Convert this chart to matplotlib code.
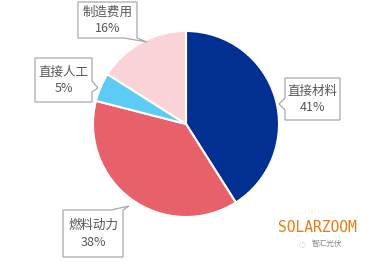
import matplotlib
matplotlib.use("Agg")
import matplotlib.pyplot as plt
from matplotlib.patches import Polygon

plt.rcParams['font.family'] = ['Noto Sans CJK SC', 'DejaVu Sans']

categories = ['直接材料', '燃料动力', '直接人工', '制造费用']
values = [41, 38, 5, 16]
colors = ['#023092', '#E8606A', '#5CCBF6', '#F9D3D6']

W, H = 377, 262
fig = plt.figure(figsize=(W / 100, H / 100), dpi=100)
cx, cy, r = 186, 124, 93
ax = fig.add_axes([(cx - r) / W, 1 - (cy + r) / H, 2 * r / W, 2 * r / H])
ax.pie(values, colors=colors, startangle=90, counterclock=False,
       wedgeprops=dict(edgecolor='white', linewidth=1.5))
ax.set_xlim(-1, 1)
ax.set_ylim(-1, 1)
ax.set_aspect('auto')
ax.axis('off')


def d(px, py):
    return ((px - cx) / r, (cy - py) / r)


# callout boxes in pixel layout: (x0, y0, x1, y1), pointer side, base span, tip
callouts = {
    '直接材料': ((285, 78, 340, 120), 'left', (98, 110), (279, 104)),
    '燃料动力': ((63, 210, 123, 257), 'top', (111, 123), (129, 206)),
    '直接人工': ((35, 58, 92, 102), 'right', (81, 92), (98, 88)),
    '制造费用': ((78, 2, 137, 38), 'bottom', (124, 137), (147, 42)),
}

for cat, v in zip(categories, values):
    (x0, y0, x1, y1), side, (a, b), tip = callouts[cat]
    if side == 'left':
        pts = [(x0, y0), (x1, y0), (x1, y1), (x0, y1), (x0, b), tip, (x0, a)]
    elif side == 'right':
        pts = [(x0, y0), (x1, y0), (x1, a), tip, (x1, b), (x1, y1), (x0, y1)]
    elif side == 'top':
        pts = [(x0, y0), (a, y0), tip, (b, y0), (x1, y0), (x1, y1), (x0, y1)]
    else:
        pts = [(x0, y0), (x1, y0), (x1, y1), (b, y1), tip, (a, y1), (x0, y1)]
    poly = Polygon([d(*p) for p in pts], closed=True, fc='white', ec='#A8A8A8',
                   lw=0.9, clip_on=False, zorder=5)
    ax.add_patch(poly)
    tx, ty = d((x0 + x1) / 2, (y0 + y1) / 2 + 0.5)
    ax.text(tx, ty, f'{cat}\n{v}%', ha='center', va='center', fontsize=9,
            color='#555555', linespacing=1.35, clip_on=False, zorder=6)

fig.text(317 / W, 1 - 227 / H, 'SOLARZOOM', color='#F07A10', fontsize=10.5,
         family='DejaVu Sans Mono', ha='center', va='center')
fig.text(327 / W, 1 - 244 / H, '智汇光伏', color='#888888', fontsize=5.5,
         ha='center', va='center')
fig.text(302 / W, 1 - 244 / H, '◌', color='#AAAAAA', fontsize=6,
         family='DejaVu Sans', ha='center', va='center')

fig.savefig('out.png', dpi=100)
